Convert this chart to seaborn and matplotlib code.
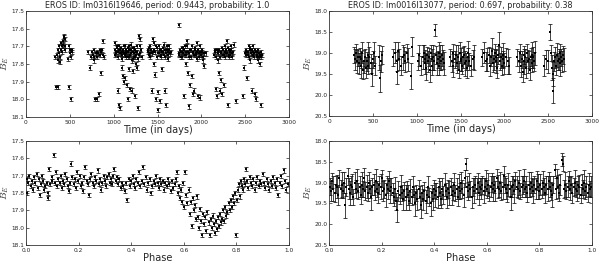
import numpy as np
import pandas as pd
import matplotlib
matplotlib.use("Agg")
import matplotlib.pyplot as plt
import seaborn as sns

# ---------------- data ----------------
tl_title = "EROS ID: lm0316l19646, period: 0.9443, probability: 1.0"
tr_title = "EROS ID: lm0016l13077, period: 0.697, probability: 0.38"

tl_time = [330,340,350,360,365,370,375,380,385,390,395,400,405,410,420,425,430,435,440,445,
           450,480,490,495,500,505,510,515,520,525,
           710,730,740,750,760,770,775,780,790,800,805,810,815,820,830,840,845,850,860,870,
           875,880,890,
           1010,1020,1030,1040,1050,1055,1060,1065,1070,1075,1080,1090,1095,1100,1105,1110,1115,1120,1125,1130,
           1135,1140,1150,1155,1160,1165,1170,1175,1180,1190,1195,1200,1210,1215,1220,1225,1230,1240,1245,1250,
           1260,1265,1270,1280,1285,1290,1300,1310,1320,
           1012,1025,1035,1045,1058,1068,1085,1098,1108,1118,1128,1138,1145,1158,1168,1178,1185,1198,1205,1218,
           1228,1235,1248,1255,1268,1275,1295,1305,
           1390,1400,1410,1420,1430,1440,1445,1450,1455,1460,1470,1475,1480,1490,1495,1500,1510,1515,1520,1530,
           1540,1545,1550,1560,1570,1580,1590,1600,1610,1620,1630,1640,1650,
           1395,1405,1415,1425,1435,1465,1485,1505,1525,1535,1555,1565,1575,1585,1595,1605,1615,1625,1635,
           1750,
           1740,1760,1770,1780,1790,1800,1810,1815,1820,1830,1840,1850,1855,1860,1870,1875,1880,1890,1895,1900,
           1910,1915,1920,1930,1940,1950,1960,1970,1980,1990,2000,2010,2020,2030,2050,
           1745,1765,1775,1785,1795,1805,1825,1835,1845,1865,1885,1905,1925,1935,1945,1955,1965,1975,1985,1995,
           2005,2015,2025,
           2150,2160,2170,2175,2180,2190,2195,2200,2205,2210,2215,2220,2230,2240,2245,2250,2260,2270,2280,2290,
           2300,2310,2320,2330,2340,2350,2360,
           2155,2165,2185,2225,2235,2255,2265,2275,2285,2295,2305,2315,2325,2335,2345,
           2370,2390,2470,
           2490,2500,2510,2520,2530,2540,2550,2560,2570,2580,2590,2600,2610,2615,2620,2630,2640,2650,2660,2670,
           2680,2690,
           2505,2515,2535,2545,2555,2565,2575,2585,2595,2605,2625,2635,2645,2655,2665,2675,2685]
tl_mag = [17.76,17.93,17.75,17.72,17.78,17.93,17.74,17.70,17.79,17.76,17.72,17.68,17.73,17.70,17.67,17.69,17.65,17.64,17.66,17.70,
          17.72,17.77,17.93,17.70,17.74,17.72,18.00,17.76,17.73,17.72,
          17.73,17.82,17.76,17.73,17.75,17.78,17.72,17.76,18.00,17.74,17.76,18.00,17.73,17.74,17.97,17.75,17.72,17.85,17.73,17.72,
          17.67,17.75,17.76,
          17.72,17.68,17.74,17.71,17.95,17.73,18.03,17.70,17.72,18.05,17.74,17.73,17.82,17.75,17.87,17.72,17.90,17.74,17.70,17.88,
          17.76,17.73,17.92,17.73,18.00,17.71,17.76,17.83,17.72,17.94,17.74,17.69,17.95,17.73,17.77,17.84,17.71,17.76,17.98,17.73,
          17.80,17.70,17.82,18.05,17.75,17.64,17.66,17.72,17.76,
          17.75,17.73,17.70,17.76,17.72,17.74,17.71,17.77,17.73,17.70,17.75,17.72,17.74,17.76,17.73,17.70,17.75,17.72,17.78,17.71,
          17.74,17.76,17.72,17.75,17.73,17.77,17.70,17.74,
          17.72,17.75,17.70,17.74,17.72,17.95,17.66,17.73,17.80,17.68,17.86,17.73,18.00,17.76,17.71,17.96,18.06,17.74,17.70,18.01,
          17.75,17.72,17.83,17.73,17.69,17.95,17.76,18.03,17.72,17.75,17.70,17.74,17.73,
          17.73,17.71,17.76,17.72,17.74,17.72,17.70,17.74,17.72,17.76,17.73,17.71,17.75,17.72,17.74,17.70,17.73,17.77,17.72,
          17.58,
          17.74,17.72,17.76,17.73,17.71,17.98,17.75,17.70,17.80,17.73,17.67,17.85,17.74,18.04,17.72,17.92,17.76,17.87,17.70,17.97,
          17.73,17.75,17.95,17.72,17.74,17.68,17.98,17.76,17.73,17.99,17.75,17.72,17.78,17.81,17.74,
          17.75,17.73,17.71,17.76,17.74,17.72,17.75,17.70,17.73,17.76,17.72,17.74,17.71,17.75,17.73,17.77,17.72,17.74,17.70,17.75,
          17.73,17.76,17.74,
          17.75,17.73,17.94,17.72,17.98,17.78,17.74,17.85,17.72,17.95,17.76,17.89,17.73,17.97,17.75,17.72,17.92,17.70,17.74,17.67,
          18.03,17.76,17.72,17.75,17.70,17.74,17.73,
          17.72,17.76,17.73,17.74,17.71,17.75,17.73,17.76,17.72,17.74,17.71,17.75,17.73,17.72,17.76,
          17.69,18.01,17.98,
          17.82,17.74,17.73,17.88,17.75,17.70,17.72,17.78,17.74,17.95,17.73,17.76,17.97,17.72,18.00,17.75,17.73,17.78,17.76,17.80,
          18.03,17.75,
          17.72,17.75,17.73,17.76,17.71,17.74,17.72,17.75,17.70,17.74,17.73,17.76,17.72,17.74,17.75,17.73,17.76]
tl_err = 0.012

tr_time = [290,300,310,320,330,340,350,360,370,380,390,400,410,420,430,440,450,460,480,490,
           500,510,520,570,580,590,600,
           730,750,770,780,790,800,820,840,850,870,890,900,930,950,
           1010,1030,1050,1070,1080,1090,1100,1110,1120,1130,1140,1150,1160,1170,1180,1190,1200,1210,1220,1230,
           1240,1250,1260,1270,1280,1290,1300,1310,
           1380,1400,1410,1420,1440,1450,1460,1470,1480,1490,1500,1510,1520,1530,1540,1550,1560,1570,1580,1590,
           1600,1620,1640,1650,
           1750,1770,1790,1800,1820,1840,1850,1860,1870,1880,1890,1900,1910,1920,1930,1940,1950,1960,1970,1980,
           1990,2000,2020,2040,2050,
           2150,2170,2180,2190,2200,2210,2220,2230,2240,2250,2260,2270,2280,2290,2300,2310,2320,2330,2340,2350,
           2450,2480,2500,2520,2530,2540,2550,2560,2570,2580,2590,2600,2610,2620,2630,2640,2650,2660,2670,2680]
tr_mag = [19.05,19.15,19.00,19.20,19.10,19.25,19.10,19.30,19.15,19.00,19.40,19.20,19.10,19.35,19.20,19.05,19.30,19.10,19.25,19.50,
          19.15,19.00,19.30,19.10,19.60,19.20,19.05,
          19.10,19.00,19.20,19.45,18.95,19.15,19.30,19.10,19.05,19.20,19.00,19.15,19.55,18.85,
          19.20,19.05,19.30,19.10,19.00,19.25,19.15,19.35,19.05,19.20,19.10,19.40,19.00,19.15,19.30,19.10,19.20,18.45,19.05,19.25,
          19.15,19.00,19.30,19.10,19.20,19.05,19.15,19.25,
          19.10,19.20,19.00,19.30,19.15,19.05,19.25,19.10,19.40,19.00,19.20,19.15,19.30,19.10,19.05,19.25,19.20,19.35,19.10,19.00,
          19.20,19.30,19.15,19.10,
          19.10,19.00,19.20,19.15,19.05,19.30,19.10,18.95,19.25,19.15,19.00,19.20,19.10,19.35,19.05,18.80,19.20,19.10,19.30,19.05,
          19.15,19.25,19.10,19.20,19.30,
          19.10,19.20,19.00,19.30,19.15,19.45,19.05,19.20,19.10,19.35,19.00,19.20,19.15,19.40,19.10,19.05,19.25,19.10,19.20,19.00,
          19.30,19.15,19.20,18.50,19.00,19.35,19.90,19.50,19.20,19.10,19.30,19.05,19.20,19.15,19.00,19.25,19.10,19.20,19.05,19.15]
tr_err = [0.20,0.25,0.22,0.28,0.20,0.25,0.22,0.30,0.20,0.25,0.22,0.28,0.20,0.25,0.22,0.30,0.20,0.25,0.22,0.28,
          0.20,0.25,0.22,0.30,0.32,0.25,0.22,
          0.20,0.25,0.22,0.28,0.20,0.25,0.22,0.30,0.20,0.25,0.22,0.28,0.30,0.22,
          0.20,0.25,0.22,0.28,0.20,0.25,0.22,0.30,0.20,0.25,0.22,0.28,0.20,0.25,0.22,0.30,0.20,0.15,0.22,0.28,
          0.20,0.25,0.22,0.30,0.20,0.25,0.22,0.28,
          0.20,0.25,0.22,0.28,0.20,0.25,0.22,0.30,0.20,0.25,0.22,0.28,0.20,0.25,0.22,0.30,0.20,0.25,0.22,0.28,
          0.20,0.25,0.22,0.30,
          0.20,0.25,0.22,0.28,0.20,0.25,0.22,0.30,0.20,0.25,0.22,0.28,0.20,0.25,0.22,0.30,0.20,0.25,0.22,0.28,
          0.20,0.25,0.22,0.30,0.20,
          0.20,0.25,0.22,0.28,0.20,0.25,0.22,0.30,0.20,0.25,0.22,0.28,0.20,0.25,0.22,0.30,0.20,0.25,0.22,0.28,
          0.25,0.22,0.28,0.18,0.20,0.30,0.30,0.28,0.22,0.25,0.22,0.28,0.20,0.25,0.22,0.30,0.20,0.25,0.22,0.28]

bl_phase = [0.002,0.005,0.008,0.012,0.018,0.022,0.027,0.031,0.036,0.040,
            0.045,0.049,0.053,0.057,0.061,0.066,0.070,0.074,0.078,0.082,
            0.085,0.088,0.092,0.097,0.100,0.105,0.110,0.114,0.118,0.123,
            0.128,0.132,0.137,0.141,0.146,0.150,0.155,0.160,0.164,0.168,
            0.172,0.176,0.181,0.186,0.190,0.195,0.199,0.204,0.208,0.213,
            0.217,0.222,0.226,0.231,0.236,0.240,0.245,0.249,0.254,0.259,
            0.263,0.268,0.272,0.277,0.281,0.286,0.290,0.295,0.300,0.305,
            0.309,0.314,0.318,0.323,0.327,0.332,0.336,0.341,0.345,0.350,
            0.355,0.360,0.365,0.370,0.375,0.380,0.385,0.390,0.395,0.400,
            0.405,0.410,0.415,0.420,0.425,0.430,0.435,0.440,0.445,0.450,
            0.455,0.460,0.465,0.470,0.475,0.480,0.485,0.490,0.495,0.500,
            0.505,0.510,0.515,0.520,0.525,0.530,0.535,0.540,0.545,0.550,
            0.555,0.560,0.565,0.570,0.575,0.578,0.582,0.586,0.590,0.594,
            0.598,0.602,0.606,0.610,0.614,0.618,0.622,0.626,0.630,0.634,
            0.638,0.642,0.646,0.650,0.654,0.658,0.662,0.666,0.670,0.674,
            0.678,0.682,0.686,0.690,0.694,0.698,0.702,0.706,0.710,0.714,
            0.718,0.722,0.726,0.730,0.734,0.738,0.742,0.746,0.750,0.754,
            0.758,0.762,0.766,0.770,0.774,0.778,0.782,0.786,0.790,0.794,
            0.798,0.802,0.806,0.810,0.814,0.818,0.822,0.826,0.830,0.834,
            0.838,0.842,0.846,0.850,0.855,0.860,0.865,0.870,0.875,0.880,
            0.885,0.890,0.895,0.900,0.905,0.910,0.915,0.920,0.925,0.930,
            0.935,0.940,0.945,0.950,0.955,0.960,0.965,0.970,0.975,0.980,
            0.985,0.990,0.995]
bl_mag = [17.72,17.80,17.74,17.70,17.76,17.73,17.78,17.71,17.74,17.69,
          17.77,17.72,17.81,17.75,17.70,17.73,17.78,17.76,17.74,17.80,
          17.83,17.66,17.75,17.73,17.71,17.58,17.74,17.68,17.76,17.72,
          17.74,17.70,17.77,17.73,17.75,17.69,17.72,17.76,17.79,17.74,
          17.63,17.71,17.75,17.72,17.77,17.68,17.73,17.70,17.76,17.74,
          17.79,17.71,17.65,17.73,17.75,17.81,17.72,17.69,17.74,17.76,
          17.71,17.73,17.67,17.75,17.72,17.78,17.74,17.70,17.73,17.76,
          17.71,17.69,17.74,17.72,17.75,17.70,17.66,17.73,17.71,17.75,
          17.72,17.77,17.74,17.76,17.79,17.74,17.84,17.72,17.76,17.73,
          17.70,17.75,17.77,17.72,17.74,17.68,17.76,17.73,17.65,17.75,
          17.71,17.78,17.74,17.72,17.80,17.76,17.73,17.75,17.70,17.74,
          17.77,17.72,17.75,17.73,17.78,17.74,17.76,17.72,17.75,17.79,
          17.73,17.77,17.75,17.72,17.68,17.80,17.76,17.83,17.78,17.85,
          17.74,17.88,17.68,17.81,17.86,17.78,17.92,17.85,17.99,17.83,
          17.90,17.87,17.95,17.82,17.94,18.00,17.89,17.96,18.04,17.92,
          17.98,17.94,18.02,17.91,17.97,18.04,17.95,18.00,17.93,17.98,
          18.03,17.96,18.01,17.94,17.99,17.92,17.97,17.95,17.90,17.96,
          17.88,17.93,17.91,17.86,17.90,17.84,17.88,17.82,17.86,17.80,
          18.04,17.84,17.78,17.75,17.82,17.73,17.76,17.78,17.72,17.75,
          17.66,17.73,17.77,17.71,17.74,17.76,17.72,17.78,17.74,17.71,
          17.76,17.73,17.75,17.69,17.74,17.77,17.72,17.75,17.78,17.73,
          17.76,17.71,17.74,17.77,17.72,17.81,17.74,17.70,17.76,17.67,
          17.73,17.78,17.75]
bl_err = 0.012

br_phase = [0.003,0.008,0.012,0.017,0.021,0.026,0.030,0.035,0.039,0.044,
            0.048,0.053,0.057,0.062,0.066,0.071,0.075,0.080,0.084,0.089,
            0.093,0.098,0.102,0.107,0.111,0.116,0.120,0.125,0.129,0.134,
            0.138,0.143,0.147,0.152,0.156,0.161,0.165,0.170,0.174,0.179,
            0.183,0.188,0.192,0.197,0.201,0.206,0.210,0.215,0.219,0.224,
            0.228,0.233,0.237,0.242,0.246,0.251,0.255,0.260,0.264,0.269,
            0.273,0.278,0.282,0.287,0.291,0.296,0.300,0.305,0.309,0.314,
            0.318,0.323,0.327,0.332,0.336,0.341,0.345,0.350,0.354,0.359,
            0.363,0.368,0.372,0.377,0.381,0.386,0.390,0.395,0.399,0.404,
            0.408,0.413,0.417,0.422,0.426,0.431,0.435,0.440,0.444,0.449,
            0.453,0.458,0.462,0.467,0.471,0.476,0.480,0.485,0.489,0.494,
            0.498,0.503,0.507,0.512,0.516,0.520,0.525,0.529,0.534,0.538,
            0.543,0.547,0.552,0.556,0.561,0.565,0.570,0.574,0.579,0.583,
            0.588,0.592,0.597,0.601,0.606,0.610,0.615,0.619,0.624,0.628,
            0.633,0.637,0.642,0.646,0.651,0.655,0.660,0.664,0.669,0.673,
            0.678,0.682,0.687,0.691,0.696,0.700,0.705,0.709,0.714,0.718,
            0.723,0.727,0.732,0.736,0.741,0.745,0.750,0.754,0.759,0.763,
            0.768,0.772,0.777,0.781,0.786,0.790,0.795,0.799,0.804,0.808,
            0.813,0.817,0.822,0.826,0.831,0.835,0.840,0.844,0.849,0.853,
            0.858,0.862,0.867,0.871,0.876,0.880,0.885,0.889,0.894,0.898,
            0.903,0.907,0.912,0.916,0.921,0.925,0.930,0.934,0.939,0.943,
            0.948,0.952,0.957,0.961,0.966,0.970,0.975,0.979,0.984,0.988,
            0.993,0.997]
br_mag = [19.10,19.20,18.95,19.15,19.25,19.05,19.10,19.30,18.90,19.15,
          19.05,19.20,19.00,19.55,19.10,18.85,19.15,19.25,19.05,19.10,
          19.35,19.00,19.15,18.95,19.20,19.10,19.30,19.05,19.15,18.90,
          19.20,19.10,19.25,19.00,19.15,19.35,19.10,19.05,19.20,18.95,
          19.15,19.25,19.05,19.10,18.90,19.20,19.15,19.30,19.05,19.15,
          18.95,19.20,19.10,19.25,19.35,19.15,19.45,19.65,19.20,19.30,
          19.10,19.25,19.40,19.20,19.35,19.15,19.30,19.45,19.20,19.35,
          19.10,19.30,19.50,19.25,19.40,19.15,19.35,19.55,19.25,19.40,
          19.20,19.45,19.30,19.10,19.35,19.50,19.25,19.40,19.15,19.30,
          19.20,19.35,19.10,19.25,19.40,19.15,19.30,19.05,19.20,19.35,
          19.15,19.25,19.10,19.30,19.20,19.05,19.25,19.15,19.35,19.10,
          19.20,19.00,19.15,19.30,18.90,18.55,19.10,19.20,19.05,19.15,
          19.35,19.10,19.20,19.05,19.15,19.00,19.25,19.10,19.15,19.05,
          19.20,19.10,18.95,19.15,19.05,19.25,19.10,19.00,19.15,19.05,
          19.20,18.90,19.10,19.15,19.00,19.20,19.10,18.85,19.05,19.15,
          19.25,19.05,19.15,19.35,19.10,19.05,19.20,18.95,19.10,19.15,
          19.00,19.20,19.10,19.05,18.95,19.15,19.10,19.25,19.05,19.15,
          19.00,19.10,19.20,19.05,19.15,18.95,19.10,19.20,19.05,19.15,
          19.00,19.10,19.25,19.05,19.15,18.95,19.10,19.20,19.30,19.05,
          18.70,19.15,18.90,19.10,19.25,19.05,18.45,18.55,19.15,19.05,
          19.20,19.10,18.95,19.15,19.05,19.25,19.10,19.00,19.15,19.20,
          19.05,19.10,19.30,19.05,19.15,19.00,19.20,19.10,19.25,19.05,
          19.15,19.10]
br_err = [0.20,0.25,0.18,0.30,0.22,0.20,0.28,0.25,0.20,0.22,
          0.30,0.18,0.25,0.30,0.22,0.20,0.25,0.28,0.22,0.30,
          0.20,0.25,0.22,0.28,0.20,0.25,0.22,0.30,0.20,0.25,
          0.22,0.28,0.20,0.25,0.22,0.30,0.20,0.25,0.22,0.28,
          0.20,0.25,0.22,0.30,0.20,0.25,0.22,0.28,0.20,0.25,
          0.22,0.30,0.20,0.25,0.22,0.28,0.20,0.30,0.25,0.22,
          0.28,0.20,0.25,0.22,0.30,0.20,0.25,0.22,0.28,0.20,
          0.25,0.22,0.30,0.20,0.25,0.22,0.28,0.30,0.20,0.25,
          0.22,0.28,0.20,0.25,0.22,0.30,0.20,0.25,0.22,0.28,
          0.20,0.25,0.22,0.30,0.20,0.25,0.22,0.28,0.20,0.25,
          0.22,0.30,0.20,0.25,0.22,0.28,0.20,0.25,0.22,0.30,
          0.20,0.25,0.22,0.28,0.20,0.15,0.25,0.22,0.28,0.20,
          0.25,0.22,0.30,0.20,0.25,0.22,0.28,0.20,0.25,0.22,
          0.30,0.20,0.25,0.22,0.28,0.20,0.25,0.22,0.30,0.20,
          0.25,0.22,0.28,0.20,0.25,0.22,0.30,0.25,0.20,0.25,
          0.22,0.28,0.20,0.30,0.25,0.22,0.28,0.20,0.25,0.22,
          0.30,0.20,0.25,0.22,0.28,0.20,0.25,0.22,0.30,0.20,
          0.25,0.22,0.28,0.20,0.25,0.22,0.30,0.20,0.25,0.22,
          0.28,0.20,0.25,0.22,0.30,0.20,0.25,0.22,0.28,0.20,
          0.15,0.25,0.22,0.28,0.20,0.25,0.15,0.18,0.22,0.30,
          0.20,0.25,0.22,0.28,0.20,0.25,0.22,0.30,0.20,0.25,
          0.22,0.28,0.20,0.25,0.22,0.30,0.20,0.25,0.22,0.28,
          0.20,0.25]

time_ticks = [0, 500, 1000, 1500, 2000, 2500, 3000]
phase_ticks = [0.0, 0.2, 0.4, 0.6, 0.8, 1.0]
left_yticks = [17.5, 17.6, 17.7, 17.8, 17.9, 18.0, 18.1]
right_yticks = [18.0, 18.5, 19.0, 19.5, 20.0, 20.5]

# ---------------- style ----------------
sns.set_style("ticks")
plt.rcParams.update({
    "font.family": ["DejaVu Sans"],
    "mathtext.fontset": "cm",
    "xtick.direction": "in",
    "ytick.direction": "in",
    "xtick.top": True,
    "ytick.right": True,
    "xtick.major.size": 2.5,
    "ytick.major.size": 2.5,
    "xtick.major.width": 0.5,
    "ytick.major.width": 0.5,
    "xtick.labelsize": 4.2,
    "ytick.labelsize": 4.2,
    "xtick.major.pad": 2,
    "ytick.major.pad": 1.2,
    "axes.linewidth": 0.6,
    "axes.edgecolor": "#333333",
})

fig = plt.figure(figsize=(6.0, 2.63), dpi=100)
W, H = 600.0, 263.0

def make_ax(l, t, r, b):
    return fig.add_axes([l / W, 1 - b / H, (r - l) / W, (b - t) / H])

ax_tl = make_ax(26, 11, 289, 117)
ax_tr = make_ax(329, 11, 592, 116)
ax_bl = make_ax(26, 141, 289, 245)
ax_br = make_ax(329, 141, 592, 245)

panels = [
    (ax_tl, tl_time, tl_mag, tl_err, (0, 3000), (18.1, 17.5), time_ticks, left_yticks, "Time (in days)", tl_title, "%d"),
    (ax_tr, tr_time, tr_mag, tr_err, (0, 3000), (20.5, 18.0), time_ticks, right_yticks, "Time (in days)", tr_title, "%d"),
    (ax_bl, bl_phase, bl_mag, bl_err, (0, 1), (18.1, 17.5), phase_ticks, left_yticks, "Phase", None, "%.1f"),
    (ax_br, br_phase, br_mag, br_err, (0, 1), (20.5, 18.0), phase_ticks, right_yticks, "Phase", None, "%.1f"),
]

for ax, xs, ys, es, xlim, ylim, xt, yt, xlab, title, xfmt in panels:
    df = pd.DataFrame({"x": xs, "y": ys})
    df["e"] = es
    ax.errorbar(df["x"], df["y"], yerr=df["e"], fmt="none", ecolor="#111111",
                elinewidth=0.55, capsize=1.4, capthick=0.55, zorder=2)
    sns.scatterplot(data=df, x="x", y="y", ax=ax, color="black", s=3,
                    marker="s", linewidth=0, zorder=3, legend=False)
    ax.set_xlim(*xlim)
    ax.set_ylim(*ylim)
    ax.set_xticks(xt)
    ax.set_yticks(yt)
    ax.set_xticklabels([xfmt % v for v in xt])
    ax.set_yticklabels(["%.1f" % v for v in yt])
    ax.set_xlabel(xlab, fontsize=7, labelpad=0.5)
    ax.set_ylabel(r"$B_E$", fontsize=7)
    ax.yaxis.set_label_coords(-0.057, 0.5)
    if title:
        ax.set_title(title, fontsize=5.8, pad=2.5)
    for s in ax.spines.values():
        s.set_visible(True)

fig.savefig("out.png", dpi=100)
